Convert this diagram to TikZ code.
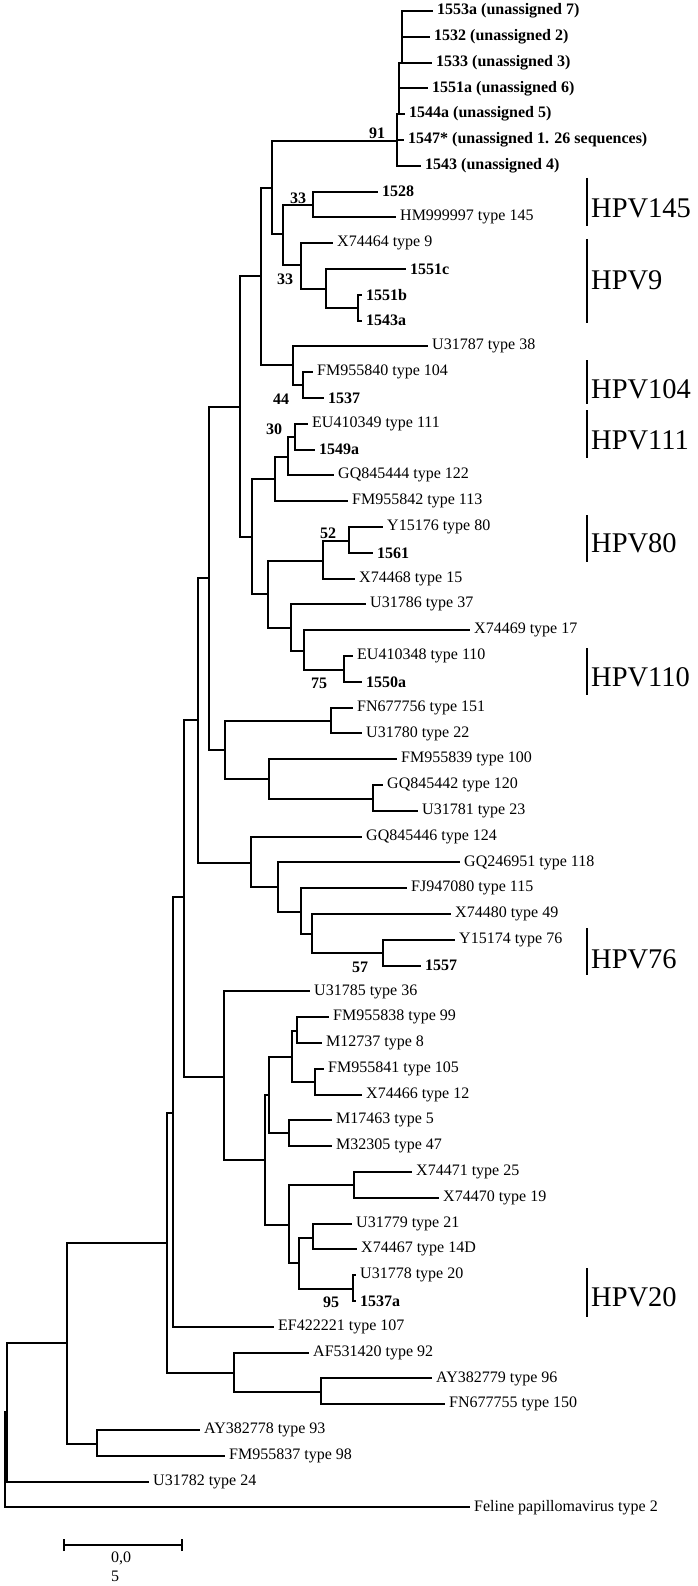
\documentclass[tikz,border=0pt]{standalone}
\usepackage{fontspec}
\setmainfont{Liberation Serif}
\begin{document}
\begin{tikzpicture}[x=1pt,y=-1pt,
  br/.style={line width=2pt, line cap=rect},
  leaf/.style={anchor=west, inner sep=0pt, xshift=5pt, font=\fontsize{16}{19}\selectfont},
  sleaf/.style={leaf, font=\fontsize{16}{19}\selectfont\bfseries},
  boot/.style={inner sep=0pt, font=\fontsize{16}{19}\selectfont\bfseries},
  hpv/.style={anchor=west, inner sep=0pt, font=\fontsize{28.5}{32}\selectfont},
  cbar/.style={line width=1.6pt},
  sbar/.style={line width=2pt}]
\useasboundingbox (0,0) rectangle (697,1586);
% ---- leaf tips ----
\foreach \n/\x/\y/\s/\t in {
 1/432/11/sleaf/{1553a (unassigned 7)},
 2/429/36.8/sleaf/{1532 (unassigned 2)},
 3/431/62.6/sleaf/{1533 (unassigned 3)},
 4/427/88.4/sleaf/{1551a (unassigned 6)},
 5/404/114.2/sleaf/{1544a (unassigned 5)},
 6/403/140/sleaf/{1547* (unassigned 1. 26 sequences)},
 7/420/165.8/sleaf/{1543 (unassigned 4)},
 8/377/191.6/sleaf/{1528},
 9/395/217.4/leaf/{HM999997 type 145},
 10/332/243.2/leaf/{X74464 type 9},
 11/405/269/sleaf/{1551c},
 12/361/294.8/sleaf/{1551b},
 13/361/320.6/sleaf/{1543a},
 14/427/346.4/leaf/{U31787 type 38},
 15/312/372.2/leaf/{FM955840 type 104},
 16/323/398/sleaf/{1537},
 17/307/423.8/leaf/{EU410349 type 111},
 18/314/449.6/sleaf/{1549a},
 19/333/475.4/leaf/{GQ845444 type 122},
 20/347/501.2/leaf/{FM955842 type 113},
 21/382/527/leaf/{Y15176 type 80},
 22/372/552.8/sleaf/{1561},
 23/354/578.6/leaf/{X74468 type 15},
 24/365/604.4/leaf/{U31786 type 37},
 25/469/630.2/leaf/{X74469 type 17},
 26/352/656/leaf/{EU410348 type 110},
 27/361/681.8/sleaf/{1550a},
 28/352/707.6/leaf/{FN677756 type 151},
 29/361/733.4/leaf/{U31780 type 22},
 30/396/759.2/leaf/{FM955839 type 100},
 31/382/785/leaf/{GQ845442 type 120},
 32/417/810.8/leaf/{U31781 type 23},
 33/361/836.6/leaf/{GQ845446 type 124},
 34/459/862.4/leaf/{GQ246951 type 118},
 35/406/888.2/leaf/{FJ947080 type 115},
 36/450/914/leaf/{X74480 type 49},
 37/454/939.8/leaf/{Y15174 type 76},
 38/420/965.6/sleaf/{1557},
 39/309/991.4/leaf/{U31785 type 36},
 40/328/1017.2/leaf/{FM955838 type 99},
 41/321/1043/leaf/{M12737 type 8},
 42/323/1068.8/leaf/{FM955841 type 105},
 43/361/1094.6/leaf/{X74466 type 12},
 44/331/1120.4/leaf/{M17463 type 5},
 45/331/1146.2/leaf/{M32305 type 47},
 46/411/1172/leaf/{X74471 type 25},
 47/438/1197.8/leaf/{X74470 type 19},
 48/351/1223.6/leaf/{U31779 type 21},
 49/356/1249.4/leaf/{X74467 type 14D},
 50/355/1275.2/leaf/{U31778 type 20},
 51/355/1301/sleaf/{1537a},
 52/273/1326.8/leaf/{EF422221 type 107},
 53/308/1352.6/leaf/{AF531420 type 92},
 54/431/1378.4/leaf/{AY382779 type 96},
 55/444/1404.2/leaf/{FN677755 type 150},
 56/199/1430/leaf/{AY382778 type 93},
 57/224/1455.8/leaf/{FM955837 type 98},
 58/148/1481.6/leaf/{U31782 type 24},
 59/469/1507.4/leaf/{Feline papillomavirus type 2}}
 {\coordinate (t\n) at (\x,\y); \node[\s] (l\n) at (t\n) {\t};}
% ---- internal nodes ----
\foreach \n/\x/\y in {n91/397/141, s2/399/114.2, s3/402/62.6, nA/272/188, nB/283/234,
 n33a/313/205, n33b/301/265, nC/326/289, nD/358/308, nX/261/276, nF/293/365,
 n44/303/385, nE/240/407, nH/252/537, nI/275/479, nJ/288/457, n30/295/437,
 nK/268/594, nL/323/561, n52/349/541, nM/291/628, nN/304/651, n75/344/670,
 nG/209/578, nQ/225/750, nR/331/721, nS/269/779, nT/373/799, nP/198/720,
 nV/251/863, nW/278/887, nY/301/912, nZ/312/934, n57/383/953, nU/184/897,
 nAB/224/1077, nAC/265/1160, nAD/269/1095, nAE/292/1057, nAF/297/1031,
 nAG/315/1082, nAH/289/1133, nAI/289/1225, nAJ/354/1185, nAK/299/1263,
 nAL/313/1238, n95/353/1289, nAA/173/1113, nAM/167/1243, nAN/234/1373,
 nAO/321/1392, n67/67/1343, nAP/97/1444, nRt/7/1412, root/5/1460}
 {\coordinate (\n) at (\x,\y);}
% ---- branches ----
\foreach \p/\c in {n91/t7, n91/t6, n91/s2, s2/t5, s2/t4, s2/s3, s3/t3, s3/t2, s3/t1,
 nA/n91, nA/nB, nB/n33a, nB/n33b, n33a/t8, n33a/t9, n33b/t10, n33b/nC, nC/t11, nC/nD,
 nD/t12, nD/t13, nX/nA, nX/nF, nF/t14, nF/n44, n44/t15, n44/t16, nE/nX, nE/nH,
 nH/nI, nH/nK, nI/nJ, nI/t20, nJ/n30, nJ/t19, n30/t17, n30/t18, nK/nL, nK/nM,
 nL/n52, nL/t23, n52/t21, n52/t22, nM/t24, nM/nN, nN/t25, nN/n75, n75/t26, n75/t27,
 nG/nE, nG/nQ, nQ/nR, nQ/nS, nR/t28, nR/t29, nS/t30, nS/nT, nT/t31, nT/t32,
 nP/nG, nP/nV, nV/t33, nV/nW, nW/t34, nW/nY, nY/t35, nY/nZ, nZ/t36, nZ/n57,
 n57/t37, n57/t38, nU/nP, nU/nAB, nAB/t39, nAB/nAC, nAC/nAD, nAC/nAI, nAD/nAE,
 nAD/nAH, nAE/nAF, nAE/nAG, nAF/t40, nAF/t41, nAG/t42, nAG/t43, nAH/t44, nAH/t45,
 nAI/nAJ, nAI/nAK, nAJ/t46, nAJ/t47, nAK/nAL, nAK/n95, nAL/t48, nAL/t49,
 n95/t50, n95/t51, nAA/nU, nAA/t52, nAM/nAA, nAM/nAN, nAN/t53, nAN/nAO,
 nAO/t54, nAO/t55, n67/nAM, n67/nAP, nAP/t56, nAP/t57, nRt/n67, nRt/t58,
 root/nRt, root/t59}
 {\draw[br] (\p) |- (\c);}
% ---- bootstrap values ----
\node[boot] (b91) at (377,133) {91};
\node[boot] (b33a) at (298,198) {33};
\node[boot] (b33b) at (285,279) {33};
\node[boot] (b44) at (281,399) {44};
\node[boot] (b30) at (274,429) {30};
\node[boot] (b52) at (328,533) {52};
\node[boot] (b75) at (319,683) {75};
\node[boot] (b57) at (360,967) {57};
\node[boot] (b95) at (331,1302) {95};
% ---- clade bars ----
\foreach \n/\ya/\yb/\yt/\t in {c145/178/226/208/HPV145, c9/239/323/280/HPV9,
 c104/360/404/389/HPV104, c111/410/458/440/HPV111, c80/515/562/543/HPV80,
 c110/648/695/677/HPV110, c76/928/975/959/HPV76, c20/1268/1317/1297/HPV20}
 {\coordinate (\n a) at (587,\ya); \coordinate (\n b) at (587,\yb);
  \draw[cbar] (\n a) -- (\n b);
  \node[hpv] (\n t) at (591,\yt) {\t};}
% ---- scale bar ----
\coordinate (sa) at (64,1545); \coordinate (sb) at (182,1545);
\draw[sbar] (sa) -- (sb);
\draw[sbar] ([yshift=-6pt]sa) -- ([yshift=6pt]sa);
\draw[sbar] ([yshift=-6pt]sb) -- ([yshift=6pt]sb);
\node[anchor=north west, inner sep=0pt, align=left, font=\fontsize{16}{19}\selectfont] (slab) at (111,1552) {0,0\\5};
\end{tikzpicture}
\end{document}
